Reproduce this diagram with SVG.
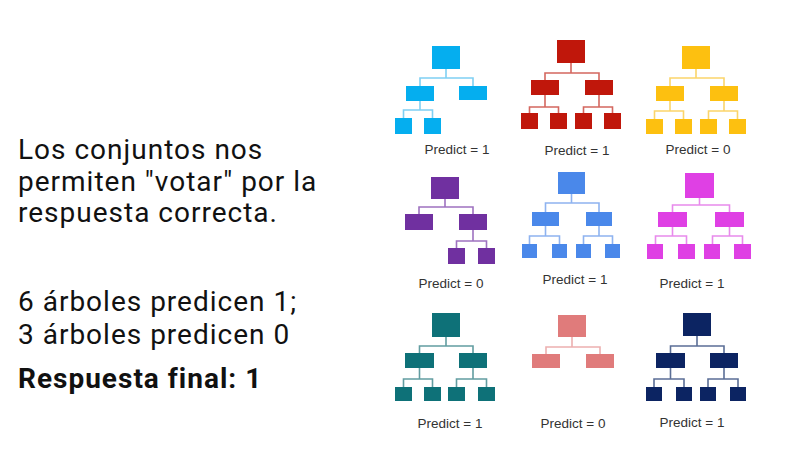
<svg xmlns="http://www.w3.org/2000/svg" width="787" height="452" viewBox="0 0 787 452">
<style>
.t{font-family:Roboto,"Liberation Sans",sans-serif;font-size:28px;letter-spacing:1px;fill:#111}
.b{font-weight:bold}
.p{font-family:"Liberation Sans",Arial,sans-serif;font-size:13.5px;fill:#333;text-anchor:middle}
.ln{fill:none;stroke-width:1.6}
.c1{fill:#05AEEF}.l1{stroke:#7FD0F3}
.c2{fill:#C0170B}.l2{stroke:#D4675F}
.c3{fill:#FDC010}.l3{stroke:#FBD56B}
.c4{fill:#7030A0}.l4{stroke:#9E72C0}
.c5{fill:#4A88EA}.l5{stroke:#8EB3F0}
.c6{fill:#DF40E4}.l6{stroke:#E88AEC}
.c7{fill:#0E7178}.l7{stroke:#629DA1}
.c8{fill:#E07B7B}.l8{stroke:#EDB0B0}
.c9{fill:#0C2462}.l9{stroke:#5B6E96}
</style>
<rect width="787" height="452" fill="#fff"/>
<g id="left-text">
<text class="t" x="18" y="159">Los conjuntos nos</text>
<text class="t" x="18" y="190.5">permiten "votar" por la</text>
<text class="t" x="18" y="222">respuesta correcta.</text>
<text class="t" x="18" y="311">6 árboles predicen 1;</text>
<text class="t" x="18" y="344">3 árboles predicen 0</text>
<text class="t b" x="18" y="388">Respuesta final: 1</text>
</g>
<g id="connectors">
<path class="ln l1" d="M446 69V78 M420 86V78H473V86 M420 101V110 M403.5 118V110H432.5V118"/>
<path class="ln l2" d="M571 63V73 M545 80V73H599V80 M545 95V107 M529.5 113V107H558.5V113 M599 95V107 M583.5 113V107H612.5V113"/>
<path class="ln l3" d="M696 69V78 M670 86V78H724V86 M670 101V111 M654.5 119V111H683.5V119 M724 101V111 M708.5 119V111H737.5V119"/>
<path class="ln l4" d="M445 199V207 M419 214V207H473V214 M473 230V241 M456.5 248V241H486.5V248"/>
<path class="ln l5" d="M571.5 194V203 M545.5 212V203H599V212 M545.5 226V236 M529.5 244V236H559.5V244 M599 226V236 M583.5 244V236H612.5V244"/>
<path class="ln l6" d="M699.5 198V205 M672.5 212V205H729.5V212 M672.5 227V236 M655.5 244V236H686.5V244 M729.5 227V236 M712.5 244V236H742.5V244"/>
<path class="ln l7" d="M446 337V346 M419.5 353V346H473V353 M419.5 368V379 M403.5 387V379H432.5V387 M473 368V379 M456.5 387V379H486.5V387"/>
<path class="ln l8" d="M572 337V347 M546 354V347H600V354"/>
<path class="ln l9" d="M697 336V346 M670.5 353V346H724V353 M670.5 368V379 M654 387V379H684V387 M724 368V379 M708 387V379H738V387"/>
</g>
<g id="tree1">
<rect class="c1" x="432" y="46" width="28" height="23"/>
<rect class="c1" x="406" y="86" width="28" height="15"/>
<rect class="c1" x="459" y="86" width="28" height="14"/>
<rect class="c1" x="395" y="118" width="17" height="16"/>
<rect class="c1" x="424" y="118" width="17" height="16"/>
<text class="p" x="457" y="154">Predict = 1</text>
</g>
<g id="tree2">
<rect class="c2" x="557" y="40" width="28" height="23"/>
<rect class="c2" x="531" y="80" width="28" height="15"/>
<rect class="c2" x="585" y="80" width="28" height="15"/>
<rect class="c2" x="521" y="113" width="17" height="16"/>
<rect class="c2" x="550" y="113" width="17" height="16"/>
<rect class="c2" x="575" y="113" width="17" height="16"/>
<rect class="c2" x="604" y="113" width="17" height="16"/>
<text class="p" x="577" y="155">Predict = 1</text>
</g>
<g id="tree3">
<rect class="c3" x="682" y="46" width="28" height="23"/>
<rect class="c3" x="656" y="86" width="28" height="15"/>
<rect class="c3" x="710" y="86" width="28" height="15"/>
<rect class="c3" x="646" y="119" width="17" height="15"/>
<rect class="c3" x="675" y="119" width="17" height="15"/>
<rect class="c3" x="700" y="119" width="17" height="15"/>
<rect class="c3" x="729" y="119" width="17" height="15"/>
<text class="p" x="698" y="154">Predict = 0</text>
</g>
<g id="tree4">
<rect class="c4" x="431" y="177" width="28" height="22"/>
<rect class="c4" x="405" y="214" width="28" height="16"/>
<rect class="c4" x="459" y="214" width="28" height="16"/>
<rect class="c4" x="448" y="248" width="17" height="16"/>
<rect class="c4" x="478" y="248" width="17" height="16"/>
<text class="p" x="451" y="288">Predict = 0</text>
</g>
<g id="tree5">
<rect class="c5" x="558" y="172" width="27" height="22"/>
<rect class="c5" x="532" y="212" width="27" height="14"/>
<rect class="c5" x="586" y="212" width="26" height="14"/>
<rect class="c5" x="522" y="244" width="15" height="14"/>
<rect class="c5" x="552" y="244" width="15" height="14"/>
<rect class="c5" x="576" y="244" width="15" height="14"/>
<rect class="c5" x="605" y="244" width="15" height="14"/>
<text class="p" x="575" y="284">Predict = 1</text>
</g>
<g id="tree6">
<rect class="c6" x="685" y="173" width="29" height="25"/>
<rect class="c6" x="658" y="212" width="29" height="15"/>
<rect class="c6" x="715" y="212" width="29" height="15"/>
<rect class="c6" x="647" y="244" width="16" height="15"/>
<rect class="c6" x="678" y="244" width="17" height="15"/>
<rect class="c6" x="704" y="244" width="16" height="15"/>
<rect class="c6" x="734" y="244" width="17" height="15"/>
<text class="p" x="692" y="288">Predict = 1</text>
</g>
<g id="tree7">
<rect class="c7" x="432" y="313" width="28" height="24"/>
<rect class="c7" x="405" y="353" width="29" height="15"/>
<rect class="c7" x="459" y="353" width="28" height="15"/>
<rect class="c7" x="395" y="387" width="17" height="14"/>
<rect class="c7" x="424" y="387" width="17" height="14"/>
<rect class="c7" x="448" y="387" width="17" height="14"/>
<rect class="c7" x="478" y="387" width="17" height="14"/>
<text class="p" x="450" y="428">Predict = 1</text>
</g>
<g id="tree8">
<rect class="c8" x="558" y="315" width="28" height="22"/>
<rect class="c8" x="532" y="354" width="28" height="14"/>
<rect class="c8" x="586" y="354" width="28" height="14"/>
<text class="p" x="573" y="428">Predict = 0</text>
</g>
<g id="tree9">
<rect class="c9" x="683" y="313" width="28" height="23"/>
<rect class="c9" x="656" y="353" width="29" height="15"/>
<rect class="c9" x="710" y="353" width="28" height="15"/>
<rect class="c9" x="646" y="387" width="16" height="14"/>
<rect class="c9" x="676" y="387" width="16" height="14"/>
<rect class="c9" x="700" y="387" width="16" height="14"/>
<rect class="c9" x="730" y="387" width="16" height="14"/>
<text class="p" x="692" y="427">Predict = 1</text>
</g>
</svg>
